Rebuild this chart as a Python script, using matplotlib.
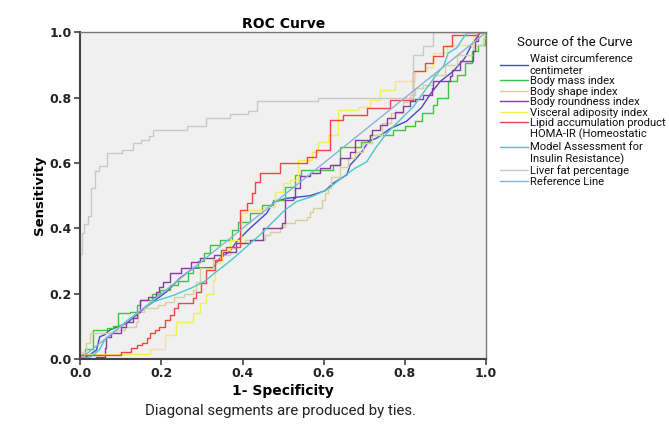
import matplotlib
matplotlib.use('Agg')
import matplotlib.pyplot as plt

# ROC points (false positive rate, sensitivity)
waist_fpr = [0, 0.023, 0.04, 0.048, 0.06, 0.073, 0.114, 0.163, 0.213, 0.245, 0.278, 0.328, 0.344, 0.369, 0.385,
             0.418, 0.459, 0.476, 0.508, 0.566, 0.603, 0.623, 0.657, 0.665, 0.681, 0.697, 0.71, 0.73, 0.763,
             0.804, 0.841, 0.862, 0.887, 0.919, 0.948, 0.965, 0.985, 1.0]
waist_tpr = [0, 0.012, 0.028, 0.068, 0.074, 0.089, 0.109, 0.16, 0.206, 0.247, 0.278, 0.28, 0.308, 0.33, 0.359,
             0.40, 0.446, 0.48, 0.492, 0.50, 0.515, 0.538, 0.564, 0.594, 0.615, 0.64, 0.666, 0.676, 0.705,
             0.728, 0.77, 0.81, 0.85, 0.881, 0.922, 0.963, 0.998, 1.0]

bmi_fpr = [0, 0.005, 0.012, 0.031, 0.065, 0.08, 0.093, 0.122, 0.139, 0.147, 0.176, 0.196, 0.22, 0.24, 0.265,
           0.277, 0.29, 0.306, 0.319, 0.344, 0.373, 0.389, 0.418, 0.447, 0.475, 0.504, 0.529, 0.545, 0.623,
           0.64, 0.693, 0.714, 0.771, 0.80, 0.825, 0.841, 0.87, 0.878, 0.907, 0.928, 0.948, 0.965, 0.981,
           0.998, 1.0]
bmi_tpr = [0, 0.015, 0.03, 0.089, 0.095, 0.10, 0.14, 0.145, 0.165, 0.18, 0.20, 0.211, 0.227, 0.24, 0.262,
           0.283, 0.30, 0.324, 0.349, 0.364, 0.395, 0.42, 0.446, 0.472, 0.487, 0.528, 0.564, 0.579, 0.594,
           0.65, 0.666, 0.686, 0.70, 0.715, 0.728, 0.753, 0.779, 0.80, 0.85, 0.871, 0.907, 0.942, 0.963,
           1.0, 1.0]

shape_fpr = [0, 0.005, 0.015, 0.023, 0.08, 0.09, 0.109, 0.138, 0.142, 0.158, 0.191, 0.21, 0.232, 0.255, 0.277,
             0.286, 0.296, 0.328, 0.344, 0.369, 0.385, 0.406, 0.455, 0.467, 0.492, 0.504, 0.529, 0.558, 0.566,
             0.574, 0.595, 0.603, 0.611, 0.619, 0.64, 0.66, 0.677, 0.697, 0.718, 0.743, 0.767, 0.796, 0.813,
             0.825, 0.845, 0.87, 0.899, 0.928, 0.969, 0.993, 1.0]
shape_tpr = [0, 0.02, 0.05, 0.079, 0.085, 0.089, 0.099, 0.114, 0.145, 0.155, 0.165, 0.175, 0.191, 0.20, 0.211,
             0.237, 0.278, 0.303, 0.318, 0.339, 0.354, 0.364, 0.38, 0.39, 0.405, 0.416, 0.426, 0.436, 0.451,
             0.461, 0.487, 0.507, 0.523, 0.558, 0.589, 0.615, 0.635, 0.66, 0.686, 0.722, 0.753, 0.788, 0.81,
             0.829, 0.84, 0.871, 0.901, 0.932, 0.963, 0.983, 1.0]

round_fpr = [0, 0.039, 0.06, 0.064, 0.076, 0.10, 0.113, 0.129, 0.14, 0.146, 0.166, 0.187, 0.195, 0.203, 0.22,
             0.249, 0.273, 0.294, 0.33, 0.352, 0.385, 0.418, 0.451, 0.496, 0.504, 0.525, 0.529, 0.541, 0.566,
             0.591, 0.615, 0.64, 0.665, 0.677, 0.714, 0.718, 0.739, 0.755, 0.776, 0.796, 0.813, 0.825, 0.845,
             0.866, 0.87, 0.911, 0.915, 0.936, 0.969, 0.973, 0.981, 1.0]
round_tpr = [0, 0.007, 0.033, 0.068, 0.079, 0.099, 0.114, 0.125, 0.145, 0.181, 0.191, 0.206, 0.22, 0.237, 0.262,
             0.278, 0.298, 0.308, 0.318, 0.329, 0.354, 0.364, 0.40, 0.416, 0.487, 0.492, 0.523, 0.56, 0.569,
             0.584, 0.594, 0.615, 0.635, 0.671, 0.686, 0.701, 0.717, 0.737, 0.757, 0.776, 0.79, 0.795, 0.81,
             0.83, 0.85, 0.866, 0.886, 0.912, 0.942, 0.973, 1.0, 1.0]

vai_fpr = [0, 0.01, 0.171, 0.208, 0.21, 0.236, 0.277, 0.294, 0.31, 0.327, 0.331, 0.344, 0.35, 0.37, 0.397,
           0.397, 0.41, 0.451, 0.48, 0.5, 0.517, 0.537, 0.57, 0.587, 0.611, 0.636, 0.685, 0.714, 0.739, 0.776,
           0.825, 0.854, 0.87, 0.903, 0.969, 1.0]
vai_tpr = [0, 0.015, 0.03, 0.048, 0.074, 0.114, 0.14, 0.17, 0.20, 0.242, 0.293, 0.303, 0.334, 0.364, 0.395,
           0.446, 0.456, 0.466, 0.512, 0.538, 0.548, 0.61, 0.635, 0.666, 0.686, 0.763, 0.773, 0.793, 0.825, 0.85,
           0.881, 0.895, 0.936, 0.962, 0.992, 1.0]

lap_fpr = [0, 0, 0.10, 0.126, 0.139, 0.151, 0.165, 0.172, 0.185, 0.195, 0.208, 0.22, 0.232, 0.24, 0.277,
           0.286, 0.298, 0.311, 0.311, 0.332, 0.348, 0.36, 0.393, 0.393, 0.41, 0.422, 0.43, 0.443, 0.492,
           0.558, 0.58, 0.615, 0.615, 0.648, 0.706, 0.763, 0.821, 0.85, 0.87, 0.895, 0.915, 0.98, 1.0]
lap_tpr = [0, 0.012, 0.022, 0.033, 0.043, 0.05, 0.063, 0.079, 0.09, 0.099, 0.119, 0.135, 0.155, 0.17, 0.186,
           0.206, 0.232, 0.247, 0.273, 0.303, 0.334, 0.344, 0.375, 0.456, 0.477, 0.507, 0.543, 0.569, 0.599,
           0.62, 0.64, 0.66, 0.732, 0.747, 0.768, 0.793, 0.881, 0.907, 0.927, 0.958, 0.993, 1.0, 1.0]

homa_fpr = [0, 0.027, 0.047, 0.06, 0.084, 0.117, 0.15, 0.183, 0.232, 0.273, 0.306, 0.335, 0.352, 0.377, 0.41,
            0.443, 0.475, 0.504, 0.533, 0.57, 0.607, 0.648, 0.677, 0.706, 0.73, 0.755, 0.788, 0.821, 0.854,
            0.878, 0.895, 0.907, 0.928, 0.952, 1.0]
homa_tpr = [0, 0.007, 0.028, 0.058, 0.084, 0.119, 0.15, 0.176, 0.196, 0.217, 0.237, 0.267, 0.283, 0.308, 0.344,
            0.38, 0.42, 0.456, 0.482, 0.497, 0.518, 0.558, 0.584, 0.604, 0.65, 0.691, 0.732, 0.773, 0.83,
            0.871, 0.897, 0.937, 0.953, 0.998, 1.0]

liver_fpr = [0, 0, 0.004, 0.010, 0.018, 0.027, 0.037, 0.046, 0.066, 0.103, 0.129, 0.15, 0.169, 0.179, 0.263,
             0.31, 0.369, 0.414, 0.435, 0.587, 0.82, 0.845, 0.87, 1.0]
liver_tpr = [0, 0.32, 0.386, 0.413, 0.437, 0.524, 0.575, 0.59, 0.631, 0.641, 0.662, 0.672, 0.682, 0.702, 0.713,
             0.738, 0.749, 0.76, 0.79, 0.80, 0.93, 0.96, 1.0, 1.0]

ref_x = [0, 1]
ref_y = [0, 1]

labels = ['Waist circumference\ncentimeter', 'Body mass index', 'Body shape index', 'Body roundness index',
          'Visceral adiposity index', 'Lipid accumulation product',
          'HOMA-IR (Homeostatic\nModel Assessment for\nInsulin Resistance)', 'Liver fat percentage',
          'Reference Line']
colors = ['#3e4fc2', '#3ec43e', '#d6cf9e', '#8a3aa0', '#f2ee55', '#f04545', '#4cc6cc', '#c8c8c8', '#88b2de']

fig = plt.figure(figsize=(6.69, 4.33), dpi=100)
ax = fig.add_axes([0.120, 0.171, 0.6065, 0.754])
ax.set_facecolor('#f0f0f0')

lw = 1.0
ax.plot(waist_fpr, waist_tpr, color=colors[0], lw=lw, label=labels[0])
ax.plot(bmi_fpr, bmi_tpr, color=colors[1], lw=lw, drawstyle='steps-post', label=labels[1])
ax.plot(shape_fpr, shape_tpr, color=colors[2], lw=lw, drawstyle='steps-post', label=labels[2])
ax.plot(round_fpr, round_tpr, color=colors[3], lw=lw, drawstyle='steps-post', label=labels[3])
ax.plot(vai_fpr, vai_tpr, color=colors[4], lw=lw, drawstyle='steps-post', label=labels[4])
ax.plot(lap_fpr, lap_tpr, color=colors[5], lw=lw, drawstyle='steps-post', label=labels[5])
ax.plot(homa_fpr, homa_tpr, color=colors[6], lw=lw, label=labels[6])
ax.plot(liver_fpr, liver_tpr, color=colors[7], lw=lw, drawstyle='steps-post', label=labels[7])
ax.plot(ref_x, ref_y, color=colors[8], lw=lw, label=labels[8])

ax.set_xlim(0, 1)
ax.set_ylim(0, 1)
ticks = [0.0, 0.2, 0.4, 0.6, 0.8, 1.0]
ax.set_xticks(ticks)
ax.set_yticks(ticks)
ax.set_xticklabels([f'{t:.1f}' for t in ticks], fontsize=9, fontweight='bold', color='#222222')
ax.set_yticklabels([f'{t:.1f}' for t in ticks], fontsize=9, fontweight='bold', color='#222222')
ax.tick_params(direction='out', length=4, width=1.2, color='#444444', pad=2)
for side in ['left', 'bottom']:
    ax.spines[side].set_color('#444444')
    ax.spines[side].set_linewidth(1.5)
for side in ['top', 'right']:
    ax.spines[side].set_color('#777777')
    ax.spines[side].set_linewidth(1.0)

ax.set_title('ROC Curve', fontsize=10, fontweight='bold', pad=3)
ax.set_xlabel('1- Specificity', fontsize=10, fontweight='bold', labelpad=3)
ax.set_ylabel('Sensitivity', fontsize=9.5, fontweight='bold', labelpad=3)

# legend title placed by hand so the gap under it matches
fig.text(0.773, 0.903, 'Source of the Curve', ha='left', va='center', fontsize=9.5,
         family='Roboto', color='#111111')
leg = fig.legend(loc='upper left', bbox_to_anchor=(0.740, 0.885), frameon=False,
                 prop={'family': 'Roboto', 'size': 8.1},
                 handlelength=2.5, handletextpad=0.2, labelspacing=0.04, borderaxespad=0)
for t in leg.get_texts():
    t.set_color('#111111')

fig.text(0.42, 0.05, 'Diagonal segments are produced by ties.', ha='center', va='center',
         fontsize=10.8, family='Roboto', color='#222222')

plt.savefig('out.png', dpi=100)
